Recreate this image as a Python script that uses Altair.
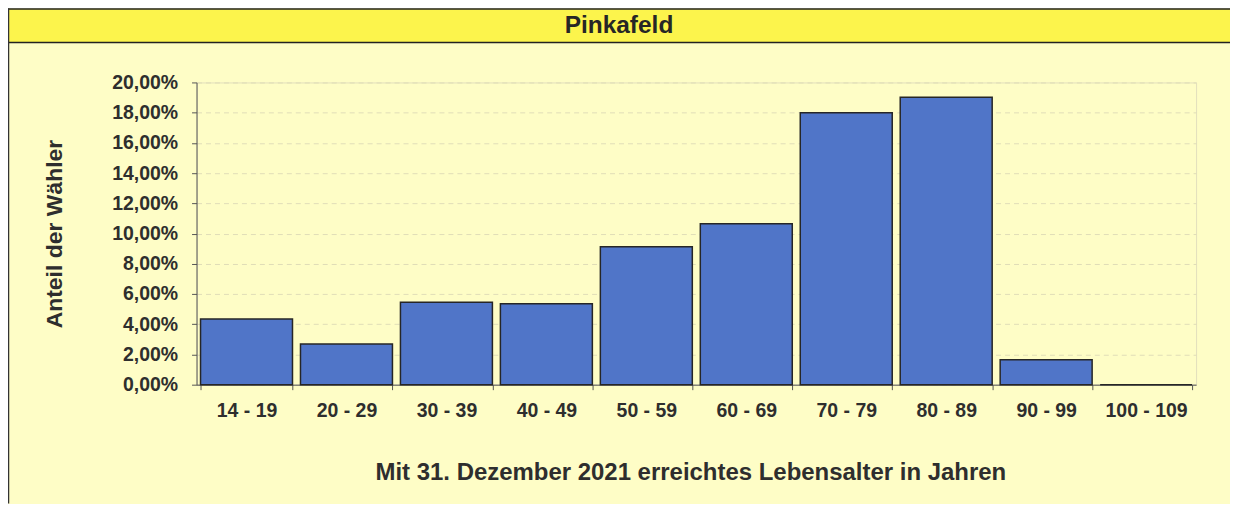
import altair as alt
import pandas as pd

# --- data ---
categories = ["14 - 19", "20 - 29", "30 - 39", "40 - 49", "50 - 59",
              "60 - 69", "70 - 79", "80 - 89", "90 - 99", "100 - 109"]
shares = [4.35, 2.70, 5.45, 5.35, 9.12, 10.65, 18.0, 19.02, 1.65, 0.0]
y_ticks = [0, 2, 4, 6, 8, 10, 12, 14, 16, 18, 20]

title_text = "Pinkafeld"
y_title = "Anteil der Wähler"
x_title = "Mit 31. Dezember 2021 erreichtes Lebensalter in Jahren"

df = pd.DataFrame({"Alter": categories, "Anteil": shares})

FONT = "Liberation Sans"
TXT = "#2e2e2e"
PLOT_W, PLOT_H = 1002, 303
PAD = {"left": 189, "top": 74, "right": 34, "bottom": 119}
TOTAL_W = PAD["left"] + PLOT_W + PAD["right"]
TOTAL_H = PAD["top"] + PLOT_H + PAD["bottom"]

bars = alt.Chart(df).mark_bar(
    color="#5075c8", stroke="#262626", strokeWidth=1.5
).encode(
    x=alt.X("Alter:N", sort=categories,
            scale=alt.Scale(paddingInner=0.08, paddingOuter=0.04),
            axis=alt.Axis(
                labelAngle=0, tickBand="extent", tickSize=5,
                labelPadding=12, labelFont=FONT, labelFontSize=19.5,
                labelFontWeight="bold", labelColor=TXT,
                domainColor="#555555", tickColor="#555555",
                title=x_title, titleFont=FONT, titleFontSize=24,
                titleFontWeight="bold", titleColor=TXT,
                titleX=495, titleY=88, titleBaseline="middle",
                titleAlign="center", grid=False)),
    y=alt.Y("Anteil:Q", scale=alt.Scale(domain=[0, 20], nice=False),
            axis=alt.Axis(
                values=y_ticks, tickSize=5, labelPadding=14,
                labelExpr="replace(format(datum.value, '.2f'), '.', ',') + '%'",
                labelFont=FONT, labelFontSize=19.5, labelFontWeight="bold",
                labelColor=TXT, domainColor="#555555", tickColor="#555555",
                grid=True, gridColor="#e0ddb8", gridDash=[5, 4],
                title=y_title, titleFont=FONT, titleFontSize=23,
                titleFontWeight="bold", titleColor=TXT,
                titleX=-142, titleY=PLOT_H / 2, titleAngle=-90,
                titleBaseline="middle", titleAlign="center")),
)

one = alt.Data(values=[{"k": 1}])

band = alt.Chart(one).mark_rect(
    fill="#fcf44c", stroke="#222222", strokeWidth=1.5
).encode(
    x=alt.value(-PAD["left"]), x2=alt.value(TOTAL_W - PAD["left"] + 4),
    y=alt.value(-PAD["top"] + 0.5), y2=alt.value(-40),
)

title = alt.Chart(one).mark_text(
    text=title_text, font=FONT, fontSize=24.5, fontWeight="bold",
    color="#262626", align="center", baseline="middle"
).encode(x=alt.value(TOTAL_W / 2 - PAD["left"]), y=alt.value(-57))

left_border = alt.Chart(one).mark_rule(color="#333333", strokeWidth=1.5).encode(
    x=alt.value(-PAD["left"] + 0.5), y=alt.value(-PAD["top"]),
    y2=alt.value(TOTAL_H - PAD["top"]),
)

chart = alt.layer(band, title, left_border, bars).properties(
    width=PLOT_W, height=PLOT_H,
    autosize=alt.AutoSizeParams(type="none"),
    padding=PAD,
    background="#fefdc6",
).configure_view(stroke="#e2dfbc", strokeWidth=1)

chart.save("out.html", embed_options={"renderer": "svg", "actions": False})
